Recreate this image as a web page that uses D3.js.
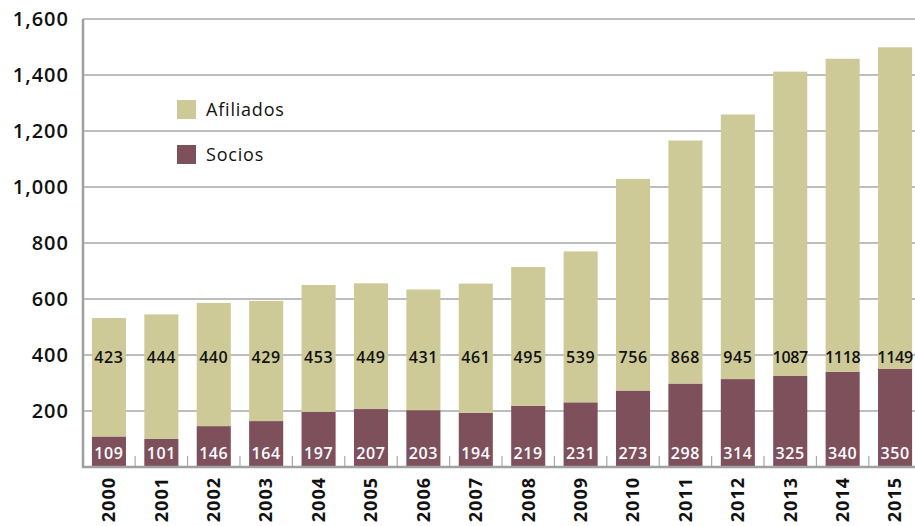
<!DOCTYPE html>
<html><head><meta charset="utf-8">
<script src="https://cdn.jsdelivr.net/npm/d3@7"></script>
<style>body{margin:0;background:#fff}svg{display:block}text{font-family:"Open Sans",sans-serif}</style>
</head><body>
<svg id="c" width="915" height="526"></svg>
<script>
const years = ["2000","2001","2002","2003","2004","2005","2006","2007","2008","2009","2010","2011","2012","2013","2014","2015"];
const socios = [109,101,146,164,197,207,203,194,219,231,273,298,314,325,340,350];
const afiliados = [423,444,440,429,453,449,431,461,495,539,756,868,945,1087,1118,1149];
const yTicks = [200,400,600,800,1000,1200,1400,1600];
const seriesNames = ["Afiliados","Socios"];
const colors = {Afiliados:"#cdca98", Socios:"#7e505c"};

const svg = d3.select("#c");
const x = d3.scaleBand().domain(years).range([83,921]).paddingInner(0.35).paddingOuter(0.17);
const y = d3.scaleLinear().domain([0,1600]).range([467,19]);

svg.append("g").selectAll("line").data(yTicks).join("line")
  .attr("x1",83).attr("x2",915).attr("y1",d=>y(d)).attr("y2",d=>y(d))
  .attr("stroke","#a8a8a8").attr("stroke-width",1.3);

const fmt = d3.format(",");
svg.append("g").selectAll("text").data(yTicks).join("text")
  .attr("x",69).attr("y",d=>y(d)).attr("dy","0.35em").attr("text-anchor","end")
  .attr("font-size",20).attr("font-weight",600).attr("letter-spacing","1").attr("fill","#111").text(d=>fmt(d));

const step = x.step();
svg.append("g").selectAll("line").data(years.slice(1)).join("line")
  .attr("x1",d=>x(d)-(step-x.bandwidth())/2).attr("x2",d=>x(d)-(step-x.bandwidth())/2)
  .attr("y1",467).attr("y2",456).attr("stroke","#a8a8a8").attr("stroke-width",1.2);

const data = years.map((yr,i)=>({year:yr, Socios:socios[i], Afiliados:afiliados[i]}));
const stack = d3.stack().keys(["Socios","Afiliados"])(data);
svg.append("g").selectAll("g").data(stack).join("g").attr("fill",d=>colors[d.key])
  .selectAll("rect").data(d=>d).join("rect")
  .attr("x",d=>x(d.data.year)).attr("width",x.bandwidth())
  .attr("y",d=>y(d[1])).attr("height",d=>y(d[0])-y(d[1]));

svg.append("g").selectAll("text").data(data).join("text")
  .attr("x",d=>x(d.year)+x.bandwidth()/2).attr("y",357).attr("dy","0.35em")
  .attr("text-anchor","middle").attr("font-size",16).attr("font-weight",600).attr("fill","#111")
  .attr("letter-spacing",d=>String(d.Afiliados).length>3?"-0.3":"0.6").text(d=>d.Afiliados);
svg.append("g").selectAll("text").data(data).join("text")
  .attr("x",d=>x(d.year)+x.bandwidth()/2).attr("y",453).attr("dy","0.35em")
  .attr("text-anchor","middle").attr("font-size",16).attr("font-weight",600).attr("fill","#fff")
  .attr("letter-spacing","0.6").text(d=>d.Socios);

svg.append("line").attr("x1",83).attr("x2",83).attr("y1",19).attr("y2",468).attr("stroke","#a0a0a0").attr("stroke-width",2.5);
svg.append("line").attr("x1",82).attr("x2",915).attr("y1",467).attr("y2",467).attr("stroke","#a0a0a0").attr("stroke-width",2.5);

svg.append("g").selectAll("text").data(years).join("text")
  .attr("transform",d=>`translate(${x(d)+x.bandwidth()/2},477) rotate(-90)`)
  .attr("dy","0.35em").attr("text-anchor","end")
  .attr("font-size",18).attr("font-weight",700).attr("letter-spacing","1").attr("fill","#111").text(d=>d);

const lg = svg.append("g").selectAll("g").data(seriesNames).join("g")
  .attr("transform",(d,i)=>`translate(177,${100+i*45})`);
lg.append("rect").attr("width",19).attr("height",19).attr("fill",d=>colors[d]);
lg.append("text").attr("x",29).attr("y",10).attr("dy","0.35em").attr("font-size",18)
  .attr("font-weight",500).attr("letter-spacing","0.8").attr("fill","#111").text(d=>d);
</script>
</body></html>
